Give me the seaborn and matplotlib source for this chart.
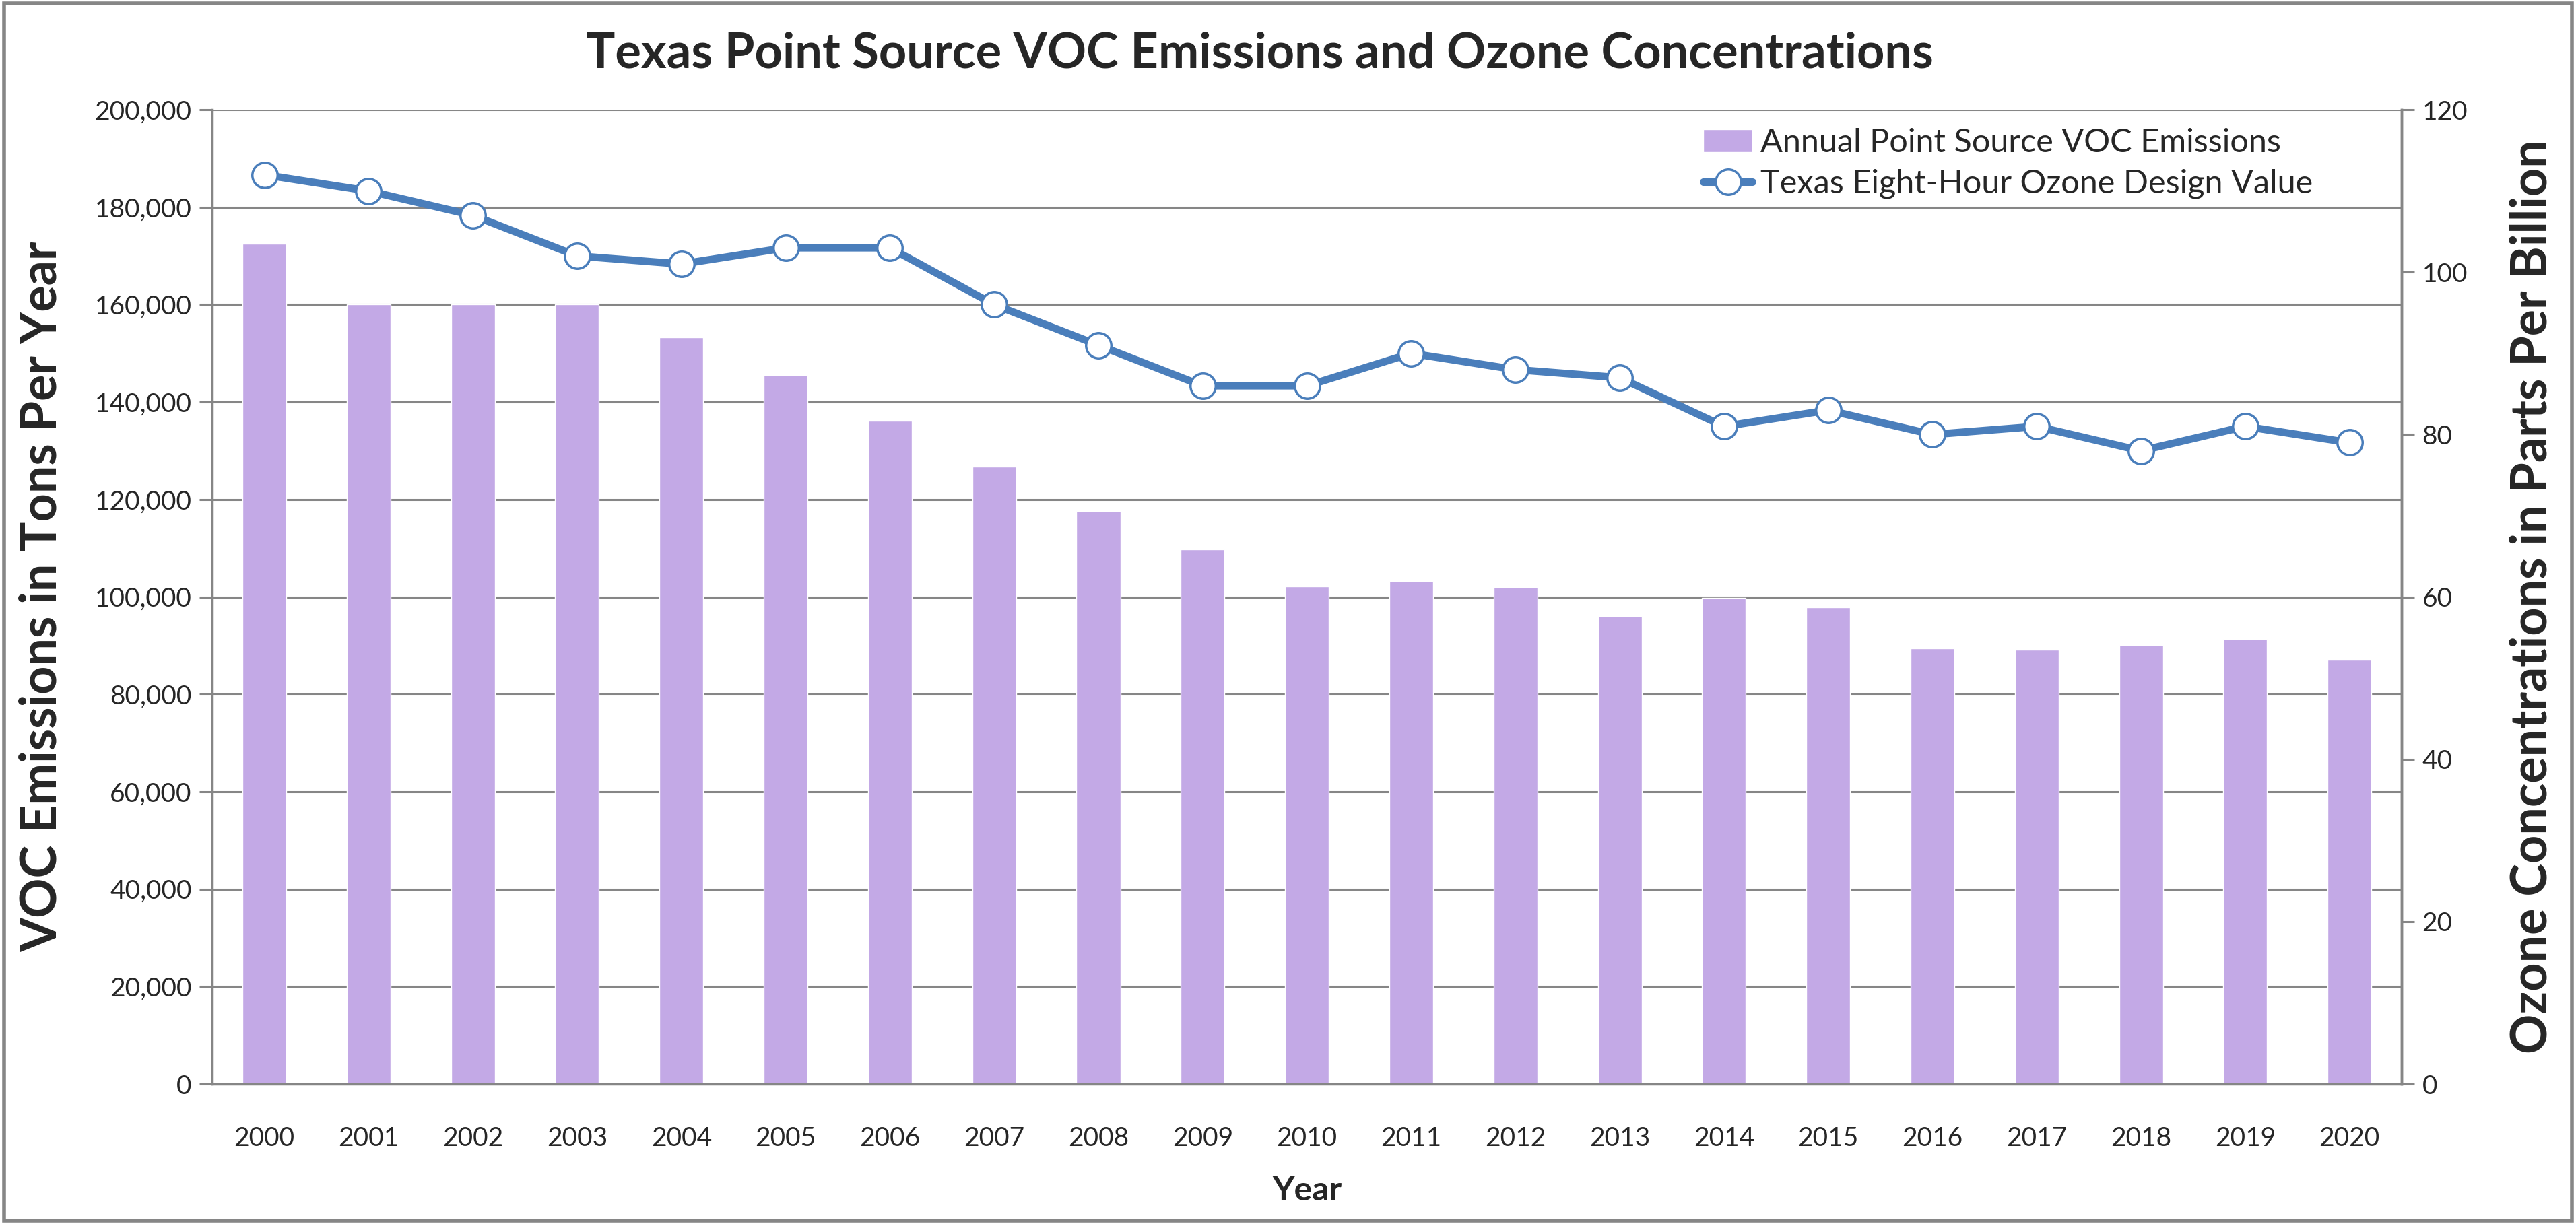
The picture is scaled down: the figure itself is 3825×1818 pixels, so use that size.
import numpy as np
import pandas as pd
import seaborn as sns
import matplotlib.pyplot as plt
from matplotlib.patches import Rectangle

# data
years = [str(y) for y in range(2000, 2021)]
voc_emissions = [172500, 160000, 160000, 160000, 153300, 145600, 136100, 126700,
                 117600, 109700, 102200, 103200, 102000, 96000, 99800, 97900,
                 89500, 89200, 90100, 91300, 87100]
ozone_dv = [112, 110, 107, 102, 101, 103, 103, 96, 91, 86, 86, 90, 88, 87,
            81, 83, 80, 81, 78, 81, 79]

df = pd.DataFrame({"Year": years, "VOC": voc_emissions, "Ozone": ozone_dv})

sns.set_theme(style="white")
plt.rcParams['font.family'] = ['Lato', 'DejaVu Sans']

bar_col = "#C3A9E6"
line_col = "#4A7EBB"
grid_col = "#868686"

fig = plt.figure(figsize=(38.25, 18.18), dpi=100)
ax = fig.add_axes([0.0824, 0.1144, 0.8499, 0.7959])

# bars - VOC emissions (left axis)
sns.barplot(data=df, x="Year", y="VOC", color=bar_col, width=0.42,
            saturation=1, ax=ax, label="Annual Point Source VOC Emissions",
            zorder=2)
ax.set_xlim(-0.5, 20.5)
ax.set_ylim(0, 200000)
ax.set_yticks(np.arange(0, 200001, 20000))
ax.set_yticklabels([f"{v:,}" for v in range(0, 200001, 20000)])
ax.yaxis.grid(True, color=grid_col, lw=2.2)
ax.set_axisbelow(True)
ax.set_xticks(np.arange(21))
ax.set_xticklabels(years)
ax.set_xticks(np.arange(-0.5, 21, 1), minor=True)
ax.tick_params(axis="x", which="major", length=0, labelsize=28, pad=45)
ax.tick_params(axis="x", which="minor", length=14, width=2.2, color=grid_col)
ax.tick_params(axis="y", length=14, width=2.2, color=grid_col, labelsize=28, pad=8)
for s in ["left", "bottom", "right"]:
    ax.spines[s].set_color(grid_col)
    ax.spines[s].set_linewidth(2.5)
ax.spines["top"].set_visible(False)

ax.set_xlabel("Year", fontsize=36, fontweight="bold")
ax.set_ylabel("VOC Emissions in Tons Per Year", fontsize=53, fontweight="bold")
ax.xaxis.set_label_coords(0.5, -0.094)
ax.yaxis.set_label_coords(-0.067, 0.5)

# line - ozone design value (right axis)
ax2 = ax.twinx()
sns.lineplot(x=np.arange(21), y=ozone_dv, ax=ax2, color=line_col, lw=8,
             marker="o", markersize=27, markerfacecolor="white",
             markeredgecolor=line_col, markeredgewidth=2.5,
             label="Texas Eight-Hour Ozone Design Value", zorder=3)
ax2.set_ylim(0, 120)
ax2.set_yticks(np.arange(0, 121, 20))
ax2.tick_params(axis="y", length=14, width=2.2, color=grid_col, labelsize=28, pad=8)
for s in ax2.spines.values():
    s.set_visible(False)
ax2.spines["right"].set_visible(True)
ax2.spines["right"].set_color(grid_col)
ax2.spines["right"].set_linewidth(2.5)
ax2.set_ylabel("Ozone Concentrations in Parts Per Billion", fontsize=53,
               fontweight="bold")
ax2.yaxis.set_label_coords(1.049, 0.5)

h1, l1 = ax.get_legend_handles_labels()
h2, l2 = ax2.get_legend_handles_labels()
if ax.get_legend():
    ax.get_legend().remove()
ax2.legend(h1 + h2, l1 + l2, loc="upper right", bbox_to_anchor=(0.97, 1.005),
           frameon=False, fontsize=35, handlelength=1.5, handletextpad=0.25,
           borderaxespad=0.3, labelspacing=0.35)

fig.suptitle("Texas Point Source VOC Emissions and Ozone Concentrations",
             x=0.489, y=0.956, va="center", fontsize=52, fontweight="bold")

fig.patches.append(Rectangle((0.0015, 0.003), 0.997, 0.994, transform=fig.transFigure,
                             fill=False, edgecolor=grid_col, lw=4))

fig.savefig("out.png", dpi=100, facecolor="white")
